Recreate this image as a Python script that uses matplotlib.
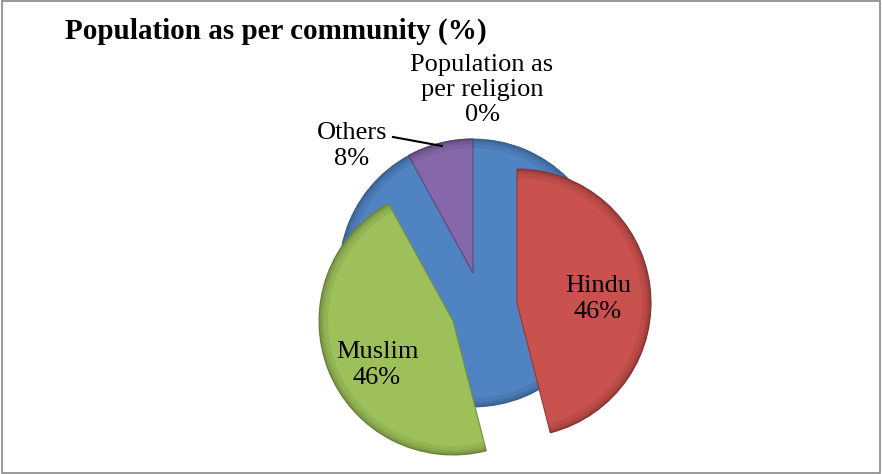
import matplotlib.pyplot as plt
from matplotlib.patches import Rectangle, Wedge

plt.rcParams['font.family'] = ['Liberation Serif', 'DejaVu Serif']

categories = ["Population as per religion", "Hindu", "Muslim", "Others"]
shares = [0, 46, 46, 8]
colors = ["#4F83C2", "#C9514E", "#9DC05A", "#8668AA"]
edges = ["#3A6496", "#953735", "#76923C", "#5F497A"]

# pixel layout (y measured upwards)
cx, cy, r = 473, 201, 134
offsets = {"Hindu": (44, -30), "Muslim": (-20, -48), "Others": (0, 0)}

fig = plt.figure(figsize=(8.82, 4.74), dpi=100)
ax = fig.add_axes([0, 0, 1, 1])

# blue back disc (the 0 % series shows as the full pie behind)
back, _ = ax.pie([1], colors=[colors[0]], center=(cx, cy), radius=r,
                 wedgeprops=dict(edgecolor=edges[0], linewidth=0.6, zorder=1))

vals = shares[1:]
wedges, _ = ax.pie(vals, colors=colors[1:], startangle=90, counterclock=False,
                   center=(cx, cy), radius=r,
                   wedgeprops=dict(linewidth=0.8, zorder=3))
for w, name, ec in zip(wedges, categories[1:], edges[1:]):
    dx, dy = offsets[name]
    w.set_center((cx + dx, cy + dy))
    w.set_edgecolor(ec)

# soft bevel along the rims, kept just above its own slice
for w in list(back) + list(wedges):
    z = w.get_zorder() + 0.5
    for k, a in [(9, 0.06), (5, 0.07), (2.5, 0.09)]:
        ax.add_patch(Wedge(w.center, w.r, w.theta1, w.theta2, width=k,
                           facecolor='black', alpha=a, linewidth=0, zorder=z))

ax.set_xlim(0, 882)
ax.set_ylim(0, 474)
ax.set_aspect('equal')
ax.axis('off')

fs = 19
ax.text(598, 474 - 299, "Hindu\n46%", ha='center', va='center', fontsize=fs, linespacing=1.2, zorder=5)
ax.text(377, 474 - 365, "Muslim\n46%", ha='center', va='center', fontsize=fs, linespacing=1.2, zorder=5)
ax.text(352, 474 - 146, "Others\n8%", ha='center', va='center', fontsize=fs, linespacing=1.2, zorder=5)
ax.text(482, 474 - 90, "Population as\nper religion\n0%", ha='center', va='center',
        fontsize=fs, linespacing=1.2, zorder=5)
ax.plot([393, 442], [474 - 137, 474 - 146], color='black', lw=1.5, zorder=5)

fig.text(65 / 882, 1 - 31 / 474, "Population as per community (%)", ha='left', va='center',
         fontsize=21, fontweight='bold')

fig.patches.append(Rectangle((0.002, 0.003), 0.996, 0.994, transform=fig.transFigure,
                             fill=False, edgecolor='#888888', linewidth=1.2))

fig.savefig("out.png", dpi=100)
